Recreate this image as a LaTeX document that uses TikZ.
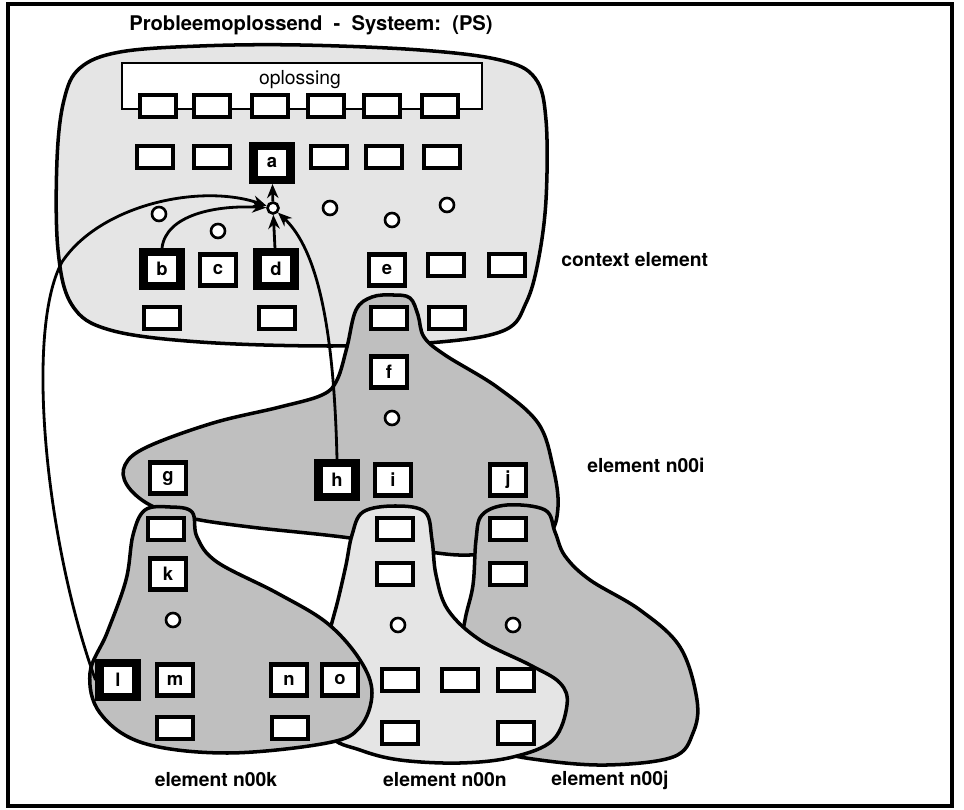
\documentclass[tikz,border=0pt]{standalone}
\usepackage{fontspec}
\setmainfont{TeX Gyre Heros}
\usetikzlibrary{positioning,arrows.meta}
\definecolor{paleshade}{gray}{0.9}
\definecolor{darkshade}{gray}{0.75}

\begin{document}
\begin{tikzpicture}[
    x=0.02cm, y=-0.02cm,
    blank/.style={rectangle,draw,fill=white,line width=2.6pt,
      minimum width=0.72cm,minimum height=0.44cm,inner sep=0pt},
    lbox/.style={blank,minimum height=0.62cm,font=\fontsize{10.5}{12}\selectfont\bfseries},
    kbox/.style={lbox,line width=4.6pt,minimum width=0.74cm,minimum height=0.68cm},
    dot/.style={circle,draw,fill=white,line width=1.5pt,minimum size=0.28cm,inner sep=0pt},
    blob/.style={draw,line width=2pt},
    setname/.style={font=\fontsize{11}{13}\selectfont\bfseries,inner sep=0pt},
    link/.style={->,>={Stealth[length=8pt,width=6.5pt]},line width=1.6pt}
  ]
    \useasboundingbox (0,0) rectangle (964,810);
    \draw[line width=2pt] (8,4) rectangle (952,806);
    \node[setname,font=\fontsize{11.5}{13}\selectfont\bfseries] (title) at (311,25)
      {Probleemoplossend\ \ -\ \ Systeem:\ \ (PS)};

    % sets
    \filldraw[blob,fill=paleshade] plot[smooth cycle,tension=0.6] coordinates {
      (300,45) (420,50) (500,60) (535,78) (546,120) (546,200) (538,262) (526,303)
      (505,330) (440,342) (330,346) (200,342) (110,330) (72,305) (58,250) (57,160)
      (64,100) (80,68) (120,52) (200,46)};
    \filldraw[blob,fill=darkshade] plot[smooth cycle,tension=0.6] coordinates {
      (393,295) (410,298) (418,315) (424,337) (445,355) (497,387) (538,423) (553,467)
      (558,507) (548,535) (510,550) (470,555) (430,552) (350,538) (250,527) (190,518)
      (150,505) (127,485) (125,465) (147,447) (213,423) (280,407) (322,395) (337,380)
      (347,347) (356,310) (372,297)};
    \filldraw[blob,fill=darkshade] plot[smooth cycle,tension=0.6] coordinates {
      (507,505) (545,510) (555,532) (565,556) (590,580) (640,610) (680,647) (697,700)
      (693,733) (673,757) (607,765) (540,760) (500,750) (470,720) (460,660) (465,620)
      (473,585) (476,540) (482,515)};
    \filldraw[blob,fill=paleshade] plot[smooth cycle,tension=0.6] coordinates {
      (395,506) (425,512) (432,540) (436,575) (448,610) (480,640) (530,665) (560,683)
      (567,705) (553,740) (513,757) (460,763) (400,760) (360,750) (330,735) (322,690)
      (328,640) (338,600) (346,565) (352,535) (363,512)};
    \filldraw[blob,fill=darkshade] plot[smooth cycle,tension=0.6] coordinates {
      (170,507) (192,512) (197,537) (217,562) (277,593) (327,623) (360,660) (372,693)
      (360,727) (327,743) (227,753) (143,743) (100,713) (90,673) (107,633) (126,580)
      (133,535) (145,510)};

    % oplossing
    \draw[line width=1.4pt,fill=white] (122,63) rectangle (482,109);
    \node[font=\fontsize{11}{13}\selectfont] (opl) at (300,80) {oplossing};
    \foreach \x [count=\i] in {158,212,270,326,382,440}
      \node[blank] (s\i) at (\x,106) {};

    % context element
    \foreach \x/\n in {155/r1,212/r2,329/r4,384/r5,442/r6}
      \node[blank] (\n) at (\x,157) {};
    \node[kbox] (a) at (272,163) {a};
    \node[kbox] (b) at (162,269) {b};
    \node[lbox] (c) at (218,270) {c};
    \node[kbox] (d) at (276,269) {d};
    \node[lbox] (e) at (387,270) {e};
    \node[blank] (e2) at (446,265) {};
    \node[blank] (e3) at (507,265) {};
    \foreach \x/\n in {162/q1,277/q2,389/q3,447/q4}
      \node[blank] (\n) at (\x,318) {};
    \node[dot] (p1) at (159,214) {};
    \node[dot] (p2) at (218,231) {};
    \node[dot,minimum size=0.22cm] (hub) at (273,208) {};
    \node[dot] (p3) at (330,208) {};
    \node[dot] (p4) at (392,220) {};
    \node[dot] (p5) at (447,205) {};

    % element n00i
    \node[lbox] (f) at (389,372) {f};
    \node[dot] (pi) at (392,418) {};
    \node[lbox] (g) at (168,478) {g};
    \node[kbox] (h) at (337,480) {h};
    \node[lbox] (i) at (393,480) {i};
    \node[lbox] (j) at (508,480) {j};

    % element n00k
    \node[blank] (k0) at (166,529) {};
    \node[lbox] (k) at (168,574) {k};
    \node[dot] (pk) at (173,620) {};
    \node[kbox] (l) at (118,680) {l};
    \node[lbox] (m) at (175,680) {m};
    \node[lbox] (n) at (289,680) {n};
    \node[lbox] (o) at (340,680) {o};
    \node[blank] (k1) at (175,728) {};
    \node[blank] (k2) at (290,728) {};

    % element n00n
    \node[blank] (n1) at (395,529) {};
    \node[blank] (n2) at (395,574) {};
    \node[dot] (pn) at (398,625) {};
    \node[blank] (n3) at (400,680) {};
    \node[blank] (n4) at (460,680) {};
    \node[blank] (n5) at (516,680) {};
    \node[blank] (n6) at (400,733) {};
    \node[blank] (n7) at (516,733) {};

    % element n00j
    \node[blank] (j1) at (508,529) {};
    \node[blank] (j2) at (508,574) {};
    \node[dot] (pj) at (513,625) {};

    \node[setname,anchor=west] (ctx)  at (561,260) {context element};
    \node[setname,anchor=west] (ni)   at (587,465) {element n00i};
    \node[setname] (nk) at (216,780) {element n00k};
    \node[setname] (nn) at (445,780) {element n00n};
    \node[setname] (nj) at (610,780) {element n00j};

    \draw[link] (hub) -- (a);
    \draw[link] (d) -- (hub);
    \draw[link] (b.north) .. controls (166,215) and (215,205) .. (hub);
    \draw[link] (h.north) .. controls (334,330) and (318,250) .. (hub);
    \draw[link] (l.west) .. controls (45,540) and (25,330) .. (62,262)
      .. controls (100,205) and (200,183) .. (hub);
  \end{tikzpicture}
\end{document}
